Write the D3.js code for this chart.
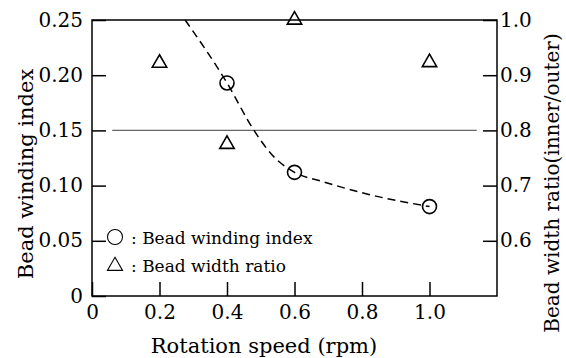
<!DOCTYPE html>
<html>
<head>
<meta charset="utf-8">
<script src="https://cdn.jsdelivr.net/npm/d3@7"></script>
<style>
  body { margin: 0; background: #fff; }
  svg { display: block; }
  svg text { font-family: "DejaVu Serif", serif !important; }
</style>
</head>
<body>
<div id="chart"></div>
<script>
// measured points
const speeds = [0.4, 0.6, 1.0];
const windingIndex = [0.193, 0.112, 0.081];
const ratioSpeeds = [0.2, 0.4, 0.6, 1.0];
const widthRatio = [0.922, 0.775, 1.0, 0.923];

// dashed fitted curve
const fitSpeeds = [0.276, 0.4, 0.48, 0.53, 0.6, 0.68, 0.82, 1.0];
const fitIndex = [0.25, 0.193, 0.150, 0.129, 0.112, 0.104, 0.092, 0.081];

// grey reference line
const refSpeeds = [0.06, 1.14];
const refIndex = 0.15;

// ticks
const xTicks = [0, 0.2, 0.4, 0.6, 0.8, 1.0];
const xTickLabels = ["0", "0.2", "0.4", "0.6", "0.8", "1.0"];
const yTicks = [0, 0.05, 0.10, 0.15, 0.20, 0.25];
const yTickLabels = ["0", "0.05", "0.10", "0.15", "0.20", "0.25"];
const y2Ticks = [0.6, 0.7, 0.8, 0.9, 1.0];
const y2TickLabels = ["0.6", "0.7", "0.8", "0.9", "1.0"];

const legendLabels = [": Bead winding index", ": Bead width ratio"];

const W = 566, H = 358;
const margin = { top: 20, right: 69, bottom: 62, left: 92 };
const width = W - margin.left - margin.right;
const height = H - margin.top - margin.bottom;

const svg = d3.select("#chart").append("svg")
  .attr("width", W)
  .attr("height", H);

const g = svg.append("g").attr("transform", `translate(${margin.left},${margin.top})`);

const x = d3.scaleLinear().domain([0, 1.2]).range([0, width]);
const y = d3.scaleLinear().domain([0, 0.25]).range([height, 0]);
const y2 = d3.scaleLinear().domain([0.5, 1.0]).range([height, 0]);

// frame
g.append("rect")
  .attr("width", width)
  .attr("height", height)
  .attr("fill", "none")
  .attr("stroke", "#000")
  .attr("stroke-width", 1.5);

// axes, ticks point inwards
const styleAxis = sel => {
  sel.attr("font-family", null);
  sel.select(".domain").remove();
  sel.selectAll("line").attr("stroke", "#000").attr("stroke-width", 1.5);
  sel.selectAll("text").attr("fill", "#000").attr("font-size", 20);
};

g.append("g")
  .attr("transform", `translate(0,${height})`)
  .call(d3.axisBottom(x).tickValues(xTicks).tickSize(-14).tickPadding(9)
    .tickFormat((d, i) => xTickLabels[i]))
  .call(styleAxis);

g.append("g")
  .call(d3.axisLeft(y).tickValues(yTicks).tickSize(-14).tickPadding(9)
    .tickFormat((d, i) => yTickLabels[i]))
  .call(styleAxis)
  .selectAll("text").attr("dy", "0.3em");

g.append("g")
  .attr("transform", `translate(${width},0)`)
  .call(d3.axisRight(y2).tickValues(y2Ticks).tickSize(-14).tickPadding(3)
    .tickFormat((d, i) => y2TickLabels[i]))
  .call(styleAxis)
  .selectAll("text").attr("dy", "0.3em");

// grey reference line
g.append("line")
  .attr("x1", x(refSpeeds[0]))
  .attr("x2", x(refSpeeds[1]))
  .attr("y1", y(refIndex))
  .attr("y2", y(refIndex))
  .attr("stroke", "#666")
  .attr("stroke-width", 1.3);

// dashed curve
const fit = fitSpeeds.map((s, i) => [s, fitIndex[i]]);
g.append("path")
  .datum(fit)
  .attr("fill", "none")
  .attr("stroke", "#000")
  .attr("stroke-width", 1.5)
  .attr("stroke-dasharray", "8,5")
  .attr("d", d3.line().x(d => x(d[0])).y(d => y(d[1])).curve(d3.curveMonotoneX));

// circles (winding index)
g.selectAll(".circ")
  .data(speeds)
  .enter().append("circle")
  .attr("class", "circ")
  .attr("cx", d => x(d))
  .attr("cy", (d, i) => y(windingIndex[i]))
  .attr("r", 7)
  .attr("fill", "none")
  .attr("stroke", "#000")
  .attr("stroke-width", 1.6);

// triangles (width ratio)
const tri = d3.symbol().type(d3.symbolTriangle).size(90);
g.selectAll(".tri")
  .data(ratioSpeeds)
  .enter().append("path")
  .attr("class", "tri")
  .attr("transform", (d, i) => `translate(${x(d)},${y2(widthRatio[i])})`)
  .attr("d", tri)
  .attr("fill", "none")
  .attr("stroke", "#000")
  .attr("stroke-width", 1.6);

// legend
const legend = g.append("g").attr("transform", "translate(23,217)");
legend.append("circle")
  .attr("r", 7.5)
  .attr("fill", "none")
  .attr("stroke", "#000")
  .attr("stroke-width", 1.1);
legend.append("path")
  .attr("transform", "translate(0,29)")
  .attr("d", d3.symbol().type(d3.symbolTriangle).size(100)())
  .attr("fill", "none")
  .attr("stroke", "#000")
  .attr("stroke-width", 1.1);
legend.selectAll("text")
  .data(legendLabels)
  .enter().append("text")
  .attr("x", 16)
  .attr("y", (d, i) => 7 + i * 28)
  .attr("font-size", 17)
  .text(d => d);

// axis titles
svg.append("text")
  .attr("x", 264)
  .attr("y", 353)
  .attr("text-anchor", "middle")
  .attr("font-size", 21)
  .text("Rotation speed (rpm)");

svg.append("text")
  .attr("transform", "translate(33,174) rotate(-90)")
  .attr("text-anchor", "middle")
  .attr("font-size", 21)
  .text("Bead winding index");

svg.append("text")
  .attr("transform", "translate(559,183) rotate(-90)")
  .attr("text-anchor", "middle")
  .attr("font-size", 20)
  .text("Bead width ratio(inner/outer)");
</script>
</body>
</html>
